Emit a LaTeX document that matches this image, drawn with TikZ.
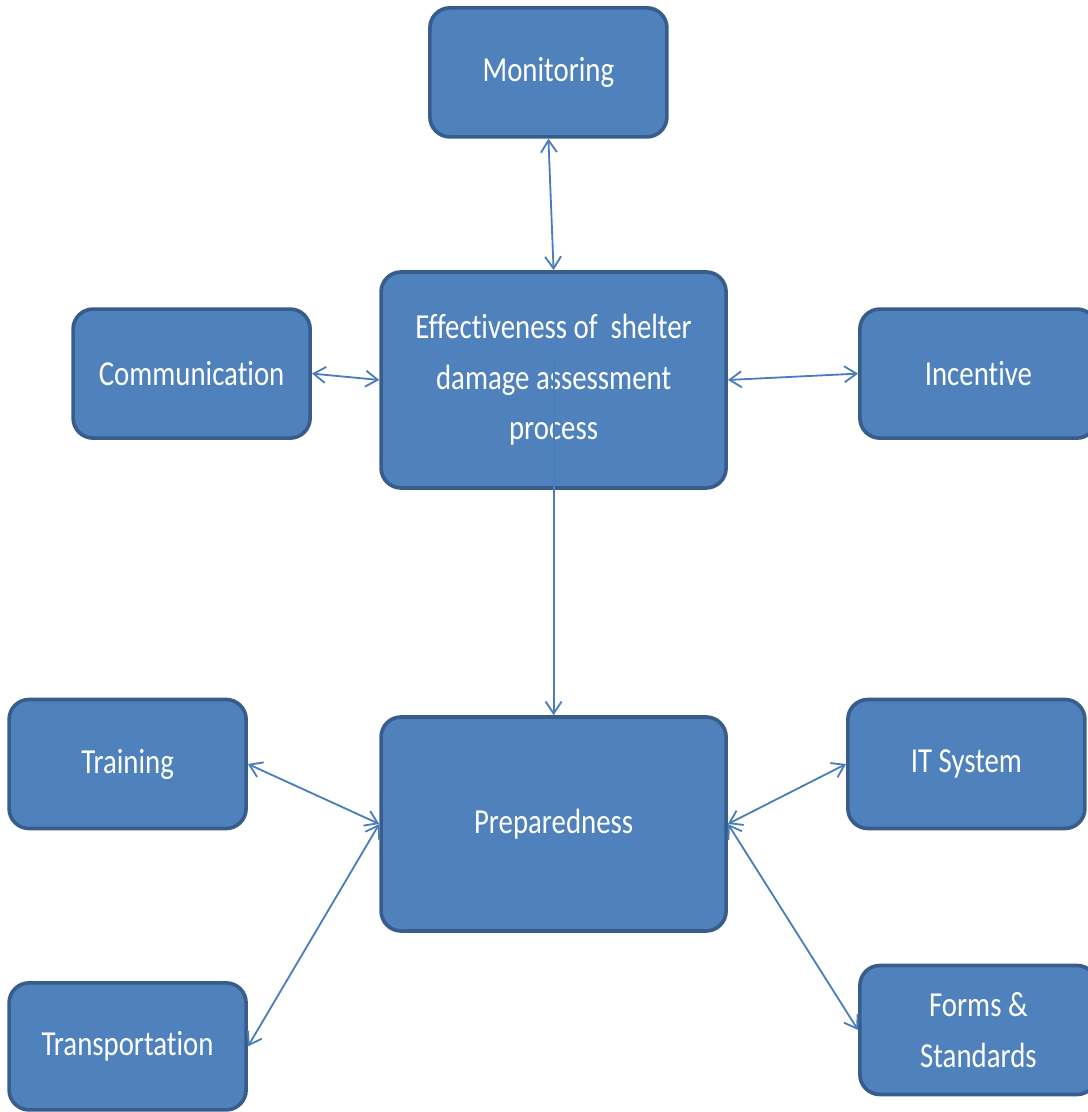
\documentclass[tikz,border=0pt]{standalone}
\usepackage{fontspec}
\setmainfont{Carlito}[FakeStretch=0.82,Ligatures=NoCommon]
\usepackage{xcolor}
\usepackage{tikz}
\usetikzlibrary{arrows.meta,calc,positioning}
\definecolor{boxfill}{HTML}{4F81BD}
\definecolor{boxedge}{HTML}{385D8A}
\definecolor{linkblue}{HTML}{4A7EBB}

\begin{document}
\begin{tikzpicture}[
  box/.style={draw=boxedge,line width=2.6pt,rounded corners=0.5cm,fill=boxfill,
    minimum width=5.925cm,minimum height=3.225cm,align=center,text=white,
    font=\fontsize{25}{36}\selectfont},
  bigbox/.style={box,minimum width=8.625cm,minimum height=5.4cm},
  link/.style={{Straight Barb[length=3mm,width=4mm]}-{Straight Barb[length=3mm,width=4mm]},
    line width=1.3pt,draw=linkblue},
  down/.style={link,-{Straight Barb[length=3mm,width=4mm]}}]
\useasboundingbox (0,0) rectangle (27.2,27.8);
\clip (0,0) rectangle (27.2,27.8);
\node[box] (mon) at (13.71,25.99) {Monitoring};
\node[bigbox] (eff) at (13.84,18.3) {Effectiveness of \ shelter\\damage assessment\\process};
\node[box] (comm) at (4.79,18.46) {Communication};
\node[box] (inc) at (24.46,18.46) {Incentive};
\node[bigbox,minimum height=5.35cm] (prep) at (13.84,7.2) {Preparedness};
\node[box] (train) at (3.19,8.7) {Training};
\node[box] (it) at (24.16,8.7) {IT System};
\node[box,minimum height=3.175cm] (trans) at (3.19,1.64) {Transportation};
\node[box] (forms) at (24.46,2.05) {Forms \&\\Standards};
\coordinate (effmid) at ($(eff.center)+(0,0.5)$);
\draw[link] (mon.south)--(eff.north);
\draw[link] (comm.east)--(eff.west);
\draw[link] (eff.east)--(inc.west);
\draw[down] (effmid)--(prep.north);
\draw[link] (train.east)--(prep.west);
\draw[link] (trans.east)--(prep.west);
\draw[link] (it.west)--(prep.east);
\draw[link] (forms.west)--(prep.east);
\end{tikzpicture}
\end{document}
